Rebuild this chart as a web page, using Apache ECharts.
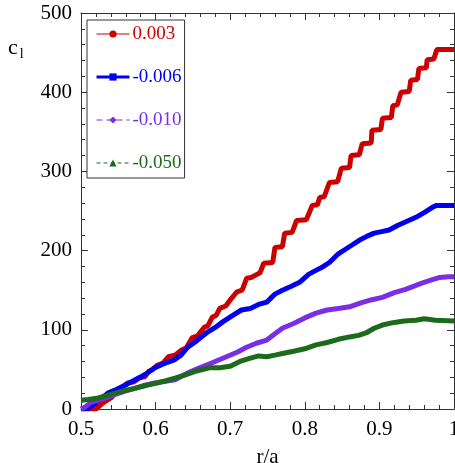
<!DOCTYPE html>
<html><head><meta charset="utf-8">
<script src="https://cdn.jsdelivr.net/npm/echarts@6/dist/echarts.min.js"></script>
<style>
html,body{margin:0;padding:0;background:#fff}
#wrap{position:relative;width:455px;height:463px}
#frame,#c{position:absolute;left:0;top:0;width:455px;height:463px}
</style>
</head><body><div id="wrap"><div id="frame"></div><div id="c"></div></div>
<script>
const seriesNames = ['0.003', '-0.006', '-0.010', '-0.050'];
const xTicks = [0.5, 0.6, 0.7, 0.8, 0.9, 1];
const yTicks = [0, 100, 200, 300, 400, 500];

const red = [[0.500,0],[0.520,0],[0.530,8],[0.540,14],[0.548,22],[0.556,28],[0.563,33],[0.570,34],[0.578,39],[0.586,41],[0.590,47],[0.596,50],[0.602,55],[0.610,58],[0.617,66],[0.626,68],[0.634,74],[0.641,77],[0.649,90],[0.656,92],[0.665,103],[0.670,105],[0.676,116],[0.681,118],[0.686,127],[0.694,130],[0.702,140],[0.709,148],[0.716,150],[0.722,165],[0.728,166],[0.734,169],[0.740,172],[0.745,184],[0.757,185],[0.760,204],[0.770,205],[0.773,222],[0.783,223],[0.789,238],[0.802,239],[0.810,257],[0.817,258],[0.820,267],[0.826,268],[0.833,286],[0.844,287],[0.849,304],[0.860,305],[0.862,320],[0.873,321],[0.877,335],[0.889,336],[0.890,352],[0.902,353],[0.904,367],[0.916,368],[0.918,383],[0.924,384],[0.929,400],[0.940,401],[0.942,415],[0.951,416],[0.953,430],[0.963,431],[0.964,441],[0.973,442],[0.977,454],[1.0,454]];
const blue = [[0.5,0],[0.51,1],[0.52,8],[0.536,20],[0.548,25],[0.559,30],[0.569,35],[0.579,40],[0.59,46],[0.599,52],[0.608,56],[0.616,59],[0.625,62],[0.634,68],[0.643,78],[0.655,86],[0.668,96],[0.68,103],[0.69,110],[0.703,118],[0.715,125],[0.727,127],[0.738,132],[0.749,135],[0.76,145],[0.77,150],[0.782,155],[0.793,160],[0.805,170],[0.815,175],[0.825,180],[0.833,185],[0.845,196],[0.855,202],[0.865,208],[0.873,213],[0.883,218],[0.893,222],[0.903,224],[0.913,226],[0.925,232],[0.937,237],[0.949,242],[0.96,248],[0.97,254],[0.976,257],[1.0,257]];
const purple = [[0.5,0],[0.505,2],[0.513,8],[0.53,13],[0.545,18],[0.56,23],[0.572,26],[0.586,30],[0.599,33],[0.613,35],[0.626,37],[0.642,45],[0.659,52],[0.675,58],[0.695,66],[0.71,72],[0.722,78],[0.735,83],[0.749,87],[0.76,95],[0.77,102],[0.785,108],[0.8,115],[0.815,121],[0.83,125],[0.845,127],[0.86,129],[0.875,134],[0.89,138],[0.904,141],[0.92,147],[0.935,151],[0.949,156],[0.96,160],[0.97,163],[0.98,166],[0.993,167],[1.0,167]];
const green = [[0.5,11],[0.51,12],[0.523,14],[0.535,17],[0.545,20],[0.558,23],[0.572,26],[0.588,30],[0.603,33],[0.615,36],[0.626,39],[0.64,43],[0.655,48],[0.672,52],[0.686,52],[0.7,54],[0.713,60],[0.726,64],[0.738,67],[0.749,66],[0.76,68],[0.77,70],[0.785,73],[0.8,76],[0.815,81],[0.83,84],[0.845,88],[0.86,91],[0.872,93],[0.882,96],[0.893,102],[0.904,106],[0.918,109],[0.933,111],[0.949,112],[0.96,114],[0.975,112],[1.0,111]];

const colors = ['#cc0000', '#0000ee', '#7b2ee6', '#1b6b1b'];
const symbols = ['circle', 'rect', 'diamond', 'triangle'];
const legendLine = [
  {width: 1.2, type: 'solid'},
  {width: 3, type: 'solid'},
  {width: 1.2, type: [6, 4]},
  {width: 1.2, type: [4, 3]}
];
const FONT = 'Liberation Serif';
const datas = [red, blue, purple, green];
const GRID = {left: 81, right: 1, top: 13, bottom: 54, containLabel: false, outerBoundsMode: 'none'};

/* Layer 1: the box frame with inward major and minor ticks on all four sides */
const frame = echarts.init(document.getElementById('frame'));
function frameAxis(kind, pos) {
  const isX = kind === 'x';
  return {
    type: 'value', position: pos,
    min: isX ? xTicks[0] : yTicks[0],
    max: isX ? xTicks[xTicks.length - 1] : yTicks[yTicks.length - 1],
    interval: isX ? 0.1 : 100,
    axisLine: {show: true, onZero: false, lineStyle: {color: '#333', width: 1}},
    axisTick: {show: true, inside: true, length: 7, lineStyle: {color: '#333', width: 1}},
    minorTick: {show: true, splitNumber: 5, length: 4, lineStyle: {color: '#333', width: 1}},
    axisLabel: {show: false},
    splitLine: {show: false}, minorSplitLine: {show: false}
  };
}
frame.setOption({
  animation: false,
  backgroundColor: '#fff',
  grid: Object.assign({}, GRID),
  xAxis: [frameAxis('x', 'bottom'), frameAxis('x', 'top')],
  yAxis: [frameAxis('y', 'left'), frameAxis('y', 'right')],
  series: [{type: 'line', data: [], showSymbol: false}]
});

/* Layer 2: tick labels, axis titles, legend and the four curves */
const chart = echarts.init(document.getElementById('c'));
function labelAxis(kind) {
  const isX = kind === 'x';
  return {
    type: 'value', position: isX ? 'bottom' : 'left',
    min: isX ? xTicks[0] : yTicks[0],
    max: isX ? xTicks[xTicks.length - 1] : yTicks[yTicks.length - 1],
    interval: isX ? 0.1 : 100,
    axisLine: {show: false}, axisTick: {show: false}, minorTick: {show: false},
    splitLine: {show: false},
    axisLabel: isX
      ? {color: '#000', fontFamily: FONT, fontSize: 21, margin: 10,
         formatter: v => (Math.abs(v - 1) < 1e-9 ? '1' : String(Math.round(v * 10) / 10))}
      : {color: '#000', fontFamily: FONT, fontSize: 21, margin: 9},
    name: isX ? 'r/a' : '', nameLocation: 'middle', nameGap: 38,
    nameTextStyle: {color: '#000', fontFamily: FONT, fontSize: 21}
  };
}
chart.setOption({
  animation: false,
  backgroundColor: 'transparent',
  grid: Object.assign({}, GRID),
  xAxis: labelAxis('x'),
  yAxis: labelAxis('y'),
  legend: {
    orient: 'vertical', left: 87, top: 20,
    padding: [4, 3, 5, 8], itemGap: 23, itemWidth: 33, itemHeight: 9,
    borderColor: '#333', borderWidth: 1, backgroundColor: '#fff',
    selectedMode: false,
    textStyle: {fontFamily: FONT, fontSize: 19, lineHeight: 20, padding: [0, 0, 0, -2]},
    data: seriesNames.map((n, i) => ({
      name: n,
      textStyle: {color: colors[i]},
      lineStyle: legendLine[i]
    }))
  },
  graphic: [{
    type: 'text', left: 8, top: 37,
    style: {
      text: '{c|c}{s|l}',
      rich: {
        c: {fontFamily: FONT, fontSize: 22, fill: '#000'},
        s: {fontFamily: FONT, fontSize: 14, fill: '#000', padding: [12, 0, 0, 2]}
      }
    }
  }],
  series: datas.map((d, i) => ({
    name: seriesNames[i], type: 'line', data: d,
    symbol: symbols[i], symbolSize: 5, showSymbol: false,
    lineStyle: {color: colors[i], width: 5},
    itemStyle: {color: colors[i]}
  }))
});
</script></body></html>
